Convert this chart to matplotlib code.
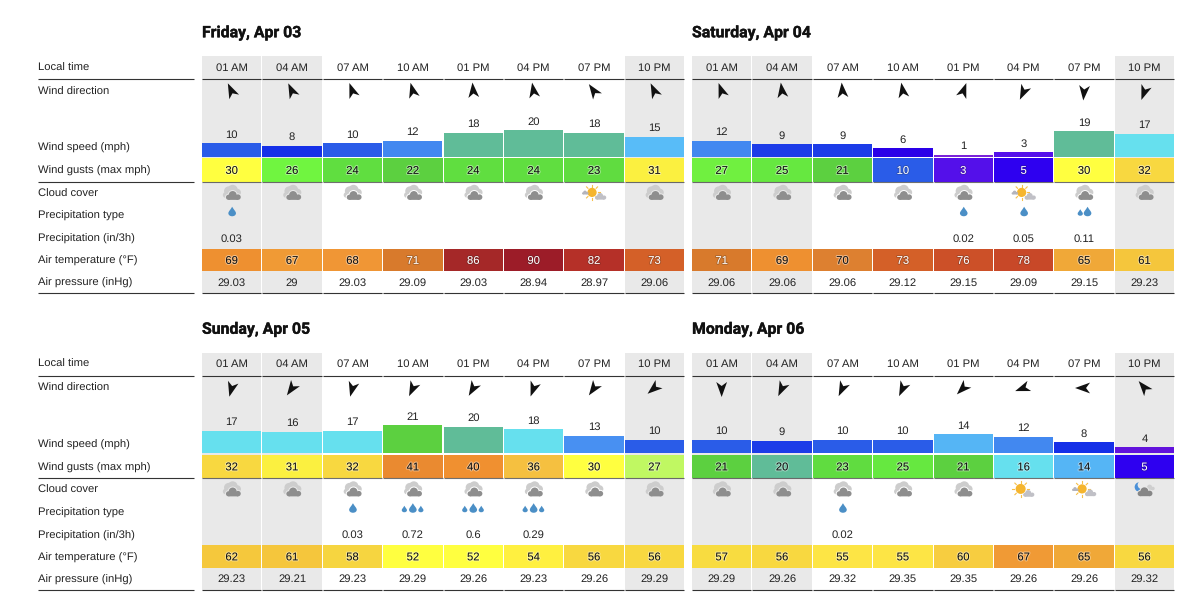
import numpy as np
import matplotlib
matplotlib.use("Agg")
import matplotlib.pyplot as plt
import matplotlib.patheffects as pe
from matplotlib.patches import Rectangle, Circle, PathPatch, Polygon
from matplotlib.path import Path

# ---- data ----
days = ["Friday, Apr 03", "Saturday, Apr 04", "Sunday, Apr 05", "Monday, Apr 06"]
hours = ["01 AM", "04 AM", "07 AM", "10 AM", "01 PM", "04 PM", "07 PM", "10 PM"]
row_labels = ["Local time", "Wind direction", "Wind speed (mph)", "Wind gusts (max mph)", "Cloud cover",
              "Precipitation type", "Precipitation (in/3h)", "Air temperature (°F)", "Air pressure (inHg)"]

# compass heading of the arrow tip
heading = [[335, 335, 340, 345, 355, 350, 325, 335],
           [340, 352, 355, 350, 20, 205, 185, 200],
           [195, 215, 195, 205, 210, 200, 215, 230],
           [180, 205, 205, 205, 225, 250, 270, 320]]
speed = [[10, 8, 10, 12, 18, 20, 18, 15],
         [12, 9, 9, 6, 1, 3, 19, 17],
         [17, 16, 17, 21, 20, 18, 13, 10],
         [10, 9, 10, 10, 14, 12, 8, 4]]
gusts = [[30, 26, 24, 22, 24, 24, 23, 31],
         [27, 25, 21, 10, 3, 5, 30, 32],
         [32, 31, 32, 41, 40, 36, 30, 27],
         [21, 20, 23, 25, 21, 16, 14, 5]]
# c = cloud, s = sun and clouds, b = sun and one cloud, n = moon and cloud
clouds = ["ccccccsc", "cccccscc", "cccccccc", "cccccbsn"]
drops = [[1, 0, 0, 0, 0, 0, 0, 0],
         [0, 0, 0, 0, 1, 1, 2, 0],
         [0, 0, 1, 3, 3, 3, 0, 0],
         [0, 0, 1, 0, 0, 0, 0, 0]]
precip = [["0.03", "", "", "", "", "", "", ""],
          ["", "", "", "", "0.02", "0.05", "0.11", ""],
          ["", "", "0.03", "0.72", "0.6", "0.29", "", ""],
          ["", "", "0.02", "", "", "", "", ""]]
temp = [[69, 67, 68, 71, 86, 90, 82, 73],
        [71, 69, 70, 73, 76, 78, 65, 61],
        [62, 61, 58, 52, 52, 54, 56, 56],
        [57, 56, 55, 55, 60, 67, 65, 56]]
pressure = [["29.03", "29", "29.03", "29.09", "29.03", "28.94", "28.97", "29.06"],
            ["29.06", "29.06", "29.06", "29.12", "29.15", "29.09", "29.15", "29.23"],
            ["29.23", "29.21", "29.23", "29.29", "29.26", "29.23", "29.26", "29.29"],
            ["29.29", "29.26", "29.32", "29.35", "29.35", "29.26", "29.26", "29.32"]]

wind_colors = {1: "#7a22d8", 3: "#5410ea", 4: "#6212dc", 5: "#2e00f0", 6: "#2a00e8", 8: "#1530e8", 9: "#1c3ce8",
               10: "#2a5ce8", 12: "#4288f0", 13: "#4890f2", 14: "#55b5f5", 15: "#58bcf8", 16: "#66e0ee",
               17: "#66e0ee", 18: "#60bc98", 19: "#60bc98", 20: "#60bc98", 21: "#5cd040", 22: "#5cd040",
               23: "#60dc40", 24: "#60de40", 25: "#66e840", 26: "#70f540", 27: "#70f040", 30: "#ffff40",
               31: "#fbf040", 32: "#f8d840", 36: "#f5c040", 40: "#f09030", 41: "#ea8a30"}
temp_colors = {52: "#ffff40", 54: "#fff040", 55: "#fde545", 56: "#f8d840", 57: "#f8dc40", 58: "#f6d540",
               60: "#f7cd40", 61: "#f5c63c", 62: "#f5c83c", 65: "#f0a838", 67: "#f09a35", 68: "#f09635",
               69: "#ee9030", 70: "#dd8030", 71: "#d87a2c", 73: "#d46028", 76: "#cc5028", 78: "#c84828",
               82: "#b53028", 86: "#a52828", 90: "#9c1c28"}
# same value, other colour in the picture (rounding on the site)
speed_override = {(2, 5): "#66e0ee"}
gust_override = {(2, 7): "#c0f862"}

# ---- layout, in pixels of the 1200x611 image ----
panel_x = [202, 692, 202, 692]
panel_y = [0, 0, 296.5, 296.5]
col_w = 60.4
cell_w = 59.3
label_x = 38
label_end = 194
row_y = [67, 91, 147, 170, 193, 215, 238, 260, 282]
dark = "#333333"
txt = 8.1
text_shift = 1.0

plt.rcParams["font.family"] = ["Liberation Sans", "DejaVu Sans"]
plt.rcParams["text.hinting"] = "no_hinting"
fig = plt.figure(figsize=(12, 6.11), dpi=100)
ax = fig.add_axes([0, 0, 1, 1])
ax.set_xlim(0, 1200)
ax.set_ylim(611, 0)
ax.axis("off")

halo_dark = [pe.withStroke(linewidth=1.5, foreground="white", alpha=0.4)]
halo_light = [pe.withStroke(linewidth=1.3, foreground="#222222", alpha=0.25)]
title_fx = [pe.withStroke(linewidth=0.25, foreground="#111111")]


def cell_text(x, y, s, on_dark=False):
    ax.text(x, y + text_shift, s, ha="center", va="center", fontsize=txt, color="white" if on_dark else "#111111",
            path_effects=halo_light if on_dark else halo_dark, zorder=6)


def plain_text(x, y, s):
    ax.text(x, y + text_shift, s, ha="center", va="center", fontsize=txt, color="#222222", zorder=6)


def draw_arrow(x, y, deg):
    shape = np.array([[0, -9], [5.4, 6], [0, 2.0], [-5.4, 6]])
    a = np.radians(deg)
    rot = np.array([[np.cos(a), -np.sin(a)], [np.sin(a), np.cos(a)]])
    ax.add_patch(Polygon(shape @ rot.T + [x, y], closed=True, fc="#111111", ec="none", zorder=4))


def blobs(x, y, parts, color, z, grow=0.0):
    for dx, dy, r in parts:
        ax.add_patch(Circle((x + dx, y + dy), r + grow, fc=color, ec="none", zorder=z))


# one flat-bottomed cloud made of circles, about 15 px wide at scale 1
def small_cloud(x, y, scale, color, z, halo=None):
    parts = [(-5 * scale, 1.8 * scale, 2.7 * scale), (-0.6 * scale, -0.6 * scale, 4.2 * scale),
             (5 * scale, 1.6 * scale, 2.9 * scale)]
    base = (x - 5 * scale, y), 10 * scale, 4.5 * scale
    if halo:
        blobs(x, y, parts, halo, z - 0.1, grow=1.0)
        ax.add_patch(Rectangle((x - 5 * scale, y), 10 * scale, 5.5 * scale, fc=halo, ec="none", zorder=z - 0.1))
    blobs(x, y, parts, color, z)
    ax.add_patch(Rectangle(base[0], base[1], base[2], fc=color, ec="none", lw=0, zorder=z, snap=False))


def draw_sun(x, y, r):
    for a in np.radians(np.arange(0, 360, 45)):
        ax.plot([x + np.cos(a) * (r + 1.2), x + np.cos(a) * (r + 3.2)],
                [y + np.sin(a) * (r + 1.2), y + np.sin(a) * (r + 3.2)], color="#f6c04a", lw=0.8, zorder=4)
    ax.add_patch(Circle((x, y), r, fc="#f5b52e", ec="none", zorder=5))


def draw_sky(x, y, kind, bg):
    if kind == "c":
        blobs(x, y, [(-6, 2, 2.8), (-3, -2, 4.6), (1, -3.2, 5.0), (5.5, -0.5, 3.8), (0, 1, 5)], "#cdcdcd", 4)
        small_cloud(x + 1.6, y + 2.6, 0.95, "#8e8e8e", 5, halo=bg)
    elif kind == "s":
        draw_sun(x - 2, y - 0.6, 4.6)
        small_cloud(x - 8.8, y - 0.4, 0.42, "#b4b4bc", 6)
        small_cloud(x + 6.5, y + 3.4, 0.72, "#c0c0c6", 6)
    elif kind == "b":
        draw_sun(x - 3, y - 0.6, 5)
        small_cloud(x + 5, y + 4, 0.72, "#c0c0c6", 6)
    else:
        ax.add_patch(Circle((x - 5, y - 2.5), 4.8, fc="#4a90d8", ec="none", zorder=4))
        ax.add_patch(Circle((x - 2.6, y - 4.6), 4.2, fc=bg, ec="none", zorder=4.1))
        small_cloud(x + 5.5, y - 2, 0.6, "#cfcfcf", 4.4)
        small_cloud(x + 0.5, y + 2.4, 0.95, "#868686", 5, halo=bg)


def draw_drop(x, y, h):
    w = h * 0.4
    verts = [(x, y - h / 2), (x + w * 0.45, y - h * 0.18), (x + w, y), (x + w, y + h * 0.18),
             (x + w, y + h * 0.38), (x + w * 0.55, y + h / 2), (x, y + h / 2),
             (x - w * 0.55, y + h / 2), (x - w, y + h * 0.38), (x - w, y + h * 0.18),
             (x - w, y), (x - w * 0.45, y - h * 0.18), (x, y - h / 2)]
    codes = [Path.MOVETO] + [Path.CURVE4] * 12
    ax.add_patch(PathPatch(Path(verts, codes), fc="#4b8fc6", ec="none", zorder=5))


for p in range(4):
    x0 = panel_x[p]
    dy = panel_y[p]
    ax.text(x0, 33 + dy, days[p], ha="left", va="center", fontsize=11.4, fontweight="bold",
            family="Roboto", color="#111111", path_effects=title_fx)

    # row labels only sit left of the left-hand panels
    if p % 2 == 0:
        for lab, y in zip(row_labels, row_y):
            ax.text(label_x, y + dy + text_shift, lab, ha="left", va="center", fontsize=txt, color="#222222")
        for y in [79, 181.5, 293]:
            ax.plot([label_x, label_end], [y + dy, y + dy], color=dark, lw=0.8, solid_capstyle="butt")

    for c in range(8):
        x = x0 + c * col_w
        xc = x + cell_w / 2
        shaded = c in (0, 1, 7)
        if shaded:
            ax.add_patch(Rectangle((x, 56 + dy), cell_w, 237, fc="#e9e9e9", ec="none", zorder=1))
        bg = "#e9e9e9" if shaded else "white"

        plain_text(xc, 67 + dy, hours[c])
        draw_arrow(xc, 91.5 + dy, heading[p][c])

        # wind speed bar
        v = speed[p][c]
        bar_h = 1.3 * v + 0.7
        ax.bar(xc, bar_h, width=cell_w, bottom=156.8 + dy - bar_h,
               color=speed_override.get((p, c), wind_colors[v]), zorder=2)
        plain_text(xc, 156.8 + dy - bar_h - 9.5, str(v))

        # gusts
        g = gusts[p][c]
        ax.add_patch(Rectangle((x, 158 + dy), cell_w, 23.5, fc=gust_override.get((p, c), wind_colors[g]),
                               ec="none", zorder=2))
        cell_text(xc, 170 + dy, str(g), on_dark=g <= 10)

        draw_sky(xc, 193 + dy, clouds[p][c], bg)

        n = drops[p][c]
        if n == 1:
            draw_drop(xc + 0.5, 211.5 + dy, 9.5)
        elif n == 2:
            draw_drop(xc - 3.8, 212.5 + dy, 6.5)
            draw_drop(xc + 3.5, 211.5 + dy, 9.5)
        elif n == 3:
            draw_drop(xc - 8.5, 212.5 + dy, 6.5)
            draw_drop(xc, 211.5 + dy, 9.5)
            draw_drop(xc + 8, 212.5 + dy, 6.5)

        if precip[p][c]:
            plain_text(xc, 238 + dy, precip[p][c])

        t = temp[p][c]
        ax.add_patch(Rectangle((x, 248.6 + dy), cell_w, 22.6, fc=temp_colors[t], ec="none", zorder=2))
        cell_text(xc, 260 + dy, str(t), on_dark=t >= 71)

        plain_text(xc, 282 + dy, pressure[p][c])

        # rules under header, gusts and pressure
        for y, a in [(79, 1.0), (181.5, 0.7), (293, 1.0)]:
            ax.plot([x, x + cell_w], [y + dy, y + dy], color=dark, lw=0.8, alpha=a, solid_capstyle="butt", zorder=3)

fig.savefig("out.png", dpi=100)
